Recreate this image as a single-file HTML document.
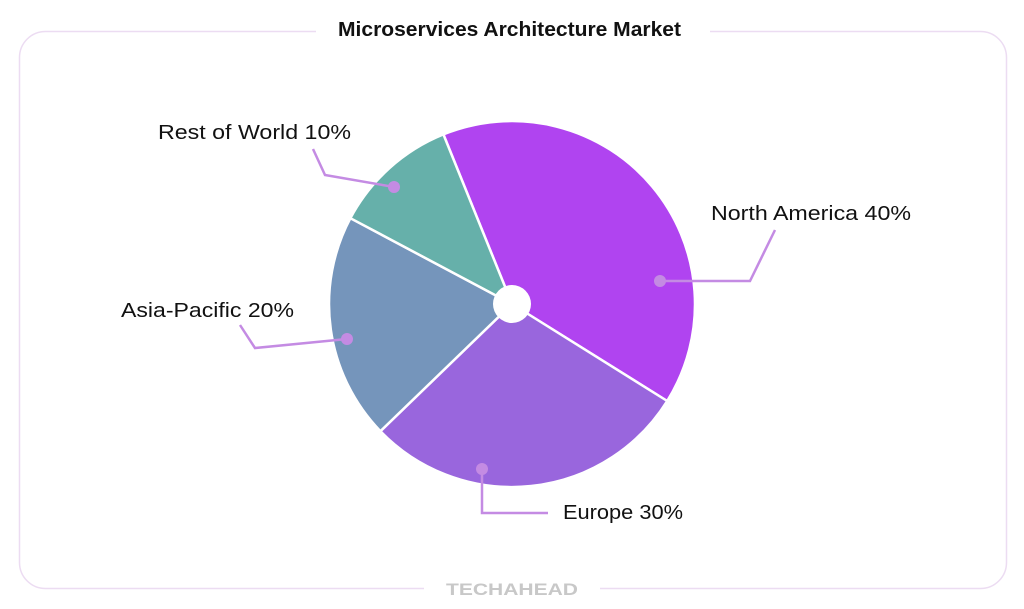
<!DOCTYPE html>
<html><head><meta charset="utf-8"><style>
html,body{margin:0;padding:0;background:#fff;}
svg{display:block;}
text{font-family:"Liberation Sans",sans-serif;}
</style></head><body>
<svg width="1024" height="609" viewBox="0 0 1024 609" xmlns="http://www.w3.org/2000/svg">
<rect x="19.5" y="31.5" width="987" height="557" rx="26" fill="none" stroke="#ecdcf2" stroke-width="1.5"/>
<rect x="316" y="20" width="394" height="24" fill="#fff"/>
<text x="338" y="36" textLength="343" lengthAdjust="spacingAndGlyphs" font-size="20" font-weight="bold" fill="#111">Microservices Architecture Market</text>
<rect x="424" y="578" width="176" height="22" fill="#fff"/>
<text x="446" y="595" textLength="132" lengthAdjust="spacingAndGlyphs" font-size="17" font-weight="bold" fill="#c8c8c8">TECHAHEAD</text>
<g stroke="#fff" stroke-width="2.5" stroke-linejoin="round">
<path d="M512,304 L443.4,134.4 A183,183 0 0 1 667.2,401 Z" fill="#b044f0"/>
<path d="M512,304 L667.2,401 A183,183 0 0 1 380.4,431.2 Z" fill="#9966dd"/>
<path d="M512,304 L380.4,431.2 A183,183 0 0 1 350.4,218.2 Z" fill="#7595bb"/>
<path d="M512,304 L350.4,218.2 A183,183 0 0 1 443.4,134.4 Z" fill="#66b0aa"/>
</g>
<circle cx="512" cy="304" r="19" fill="#fff"/>
<g stroke="#c48be3" stroke-width="2.5" fill="none">
<polyline points="660,281 750,281 775,230"/>
<polyline points="482,469 482,513 548,513"/>
<polyline points="347,339 255,348 240,325"/>
<polyline points="394,187 325,175 313,149"/>
</g>
<g fill="#c48be3">
<circle cx="660" cy="281" r="6"/><circle cx="482" cy="469" r="6"/>
<circle cx="347" cy="339" r="6"/><circle cx="394" cy="187" r="6"/>
</g>
<g font-size="20" fill="#111" lengthAdjust="spacingAndGlyphs">
<text x="711" y="220" textLength="200" lengthAdjust="spacingAndGlyphs">North America 40%</text>
<text x="563" y="519" textLength="120" lengthAdjust="spacingAndGlyphs">Europe 30%</text>
<text x="121" y="317" textLength="173" lengthAdjust="spacingAndGlyphs">Asia-Pacific 20%</text>
<text x="158" y="139" textLength="193" lengthAdjust="spacingAndGlyphs">Rest of World 10%</text>
</g>
</svg>
</body></html>
